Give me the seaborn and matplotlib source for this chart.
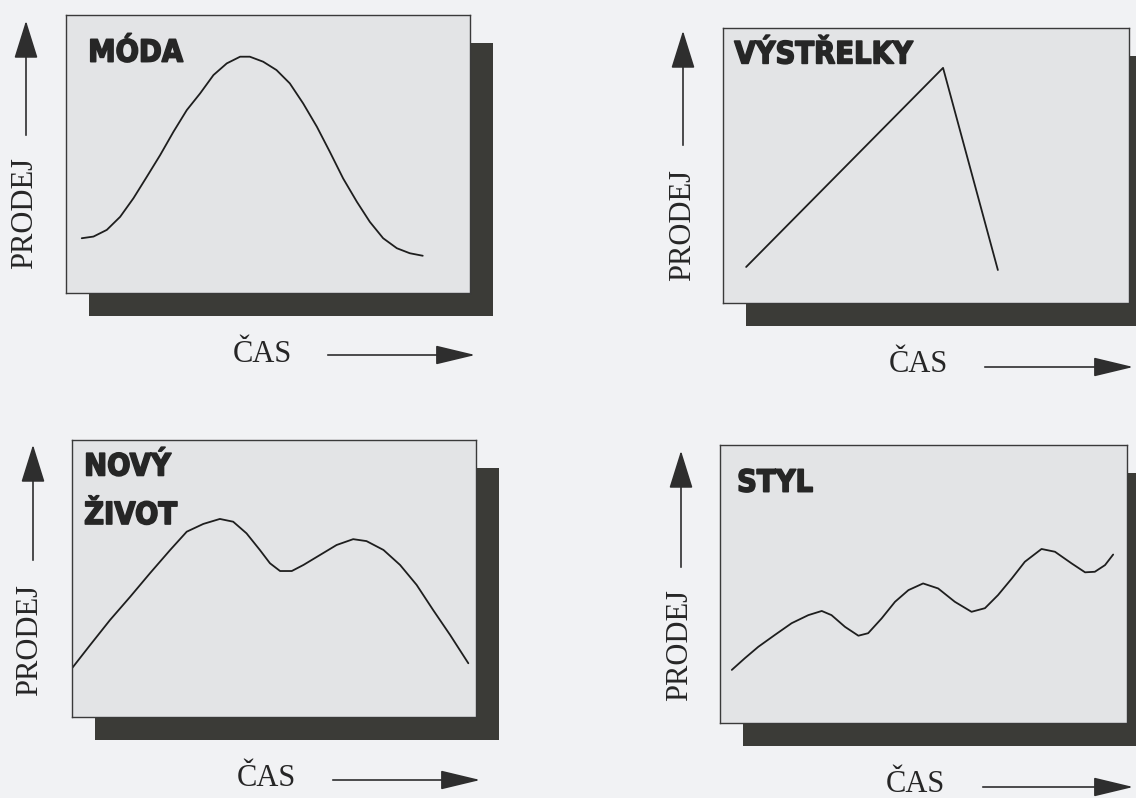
import matplotlib
matplotlib.use('Agg')
import matplotlib.pyplot as plt
import matplotlib.patheffects as pe
import seaborn as sns
import pandas as pd

#### Data: time (x) vs. sales (y), both on a 0-100 scale inside each box
moda_cas = [3.9, 6.8, 10.1, 13.4, 16.7, 20.0, 23.3, 26.6, 29.9, 33.2, 36.5, 39.8, 43.1, 45.5,
            48.8, 52.1, 55.4, 58.7, 62.1, 65.3, 68.6, 72.0, 75.2, 78.5, 81.9, 85.1, 88.3]
moda_prodej = [19.7, 20.3, 22.7, 27.4, 34.1, 41.8, 49.6, 58.0, 65.8, 71.8, 78.4, 82.6, 85.0, 85.0,
               83.2, 80.2, 75.4, 68.2, 59.8, 50.8, 41.2, 32.8, 25.6, 19.7, 16.1, 14.3, 13.4]

vystrelky_cas = [5.7, 54.2, 67.7]
vystrelky_prodej = [13.1, 85.5, 12.0]

novy_cas = [0.0, 4.5, 9.4, 14.4, 19.3, 24.3, 28.4, 32.5, 36.6, 39.9, 43.2, 46.5, 49.0,
            51.5, 54.4, 57.3, 61.4, 65.5, 69.6, 72.9, 77.1, 81.2, 85.3, 89.4, 93.6, 98.1]
novy_prodej = [17.6, 26.0, 35.0, 43.4, 51.9, 60.3, 66.9, 69.7, 71.5, 70.5, 66.3, 60.3, 55.5,
               52.7, 52.7, 54.9, 58.5, 62.1, 64.2, 63.5, 60.3, 54.9, 47.7, 38.6, 29.6, 19.4]

styl_cas = [2.9, 6.1, 9.4, 13.5, 17.6, 21.7, 25.0, 27.4, 30.7, 34.0, 36.4, 39.7, 43.0, 46.3, 49.9,
            53.6, 57.7, 61.8, 65.1, 68.3, 71.7, 74.9, 79.0, 82.3, 86.4, 89.7, 92.1, 94.6, 96.6]
styl_prodej = [19.1, 23.3, 27.4, 31.7, 35.9, 38.8, 40.3, 38.8, 34.6, 31.4, 32.3, 37.6, 43.6, 47.8, 50.2,
               48.4, 43.6, 40.0, 41.3, 46.0, 52.0, 58.0, 62.6, 61.6, 57.4, 54.2, 54.4, 56.8, 60.6]

titles = ['MÓDA', 'VÝSTŘELKY', 'NOVÝ\nŽIVOT', 'STYL']
x_label = 'ČAS'
y_label = 'PRODEJ'

#### Layout (pixel boxes, top-left origin)
W, H = 1136, 798
boxes = [(66, 15, 470, 293), (723, 28, 1129, 303), (72, 440, 476, 717), (720, 445, 1127, 723)]
title_pos = [(0.055, 0.915), (0.028, 0.955), (0.03, 0.955), (0.042, 0.915)]
shift = 23
ylab_x = [25, 683, 30, 680]
ylab_y = [213, 225, 640, 645]
yarrow = [(26, 138, 18), (683, 148, 28), (33, 563, 442), (681, 570, 448)]
xlab = [(262, 355), (918, 365), (266, 778), (915, 785)]
xarrow = [(325, 478, 355), (982, 1136, 367), (330, 483, 780), (980, 1136, 787)]

data = [(moda_cas, moda_prodej), (vystrelky_cas, vystrelky_prodej),
        (novy_cas, novy_prodej), (styl_cas, styl_prodej)]

sns.set_style('white')
bg = '#f1f2f4'
fig = plt.figure(figsize=(W / 100, H / 100), dpi=100, facecolor=bg)


def rect(x0, y0, x1, y1):
    return [x0 / W, 1 - y1 / H, (x1 - x0) / W, (y1 - y0) / H]


# overlay for labels and arrows, in pixel coordinates
over = fig.add_axes([0, 0, 1, 1], zorder=0)
over.set_xlim(0, W)
over.set_ylim(H, 0)
over.axis('off')

for i, (cas, prodej) in enumerate(data):
    x0, y0, x1, y1 = boxes[i]
    # drop shadow
    sh = fig.add_axes(rect(x0 + shift, y0 + shift + 5, min(x1 + shift, W + 5), y1 + shift), zorder=1)
    sh.set_facecolor('#3b3b37')
    sh.set_xticks([]); sh.set_yticks([])
    for s in sh.spines.values():
        s.set_visible(False)

    ax = fig.add_axes(rect(x0, y0, x1, y1), zorder=2)
    ax.set_facecolor('#e3e4e6')
    df = pd.DataFrame({'cas': cas, 'prodej': prodej})
    sns.lineplot(data=df, x='cas', y='prodej', ax=ax, color='#1e1e1e', linewidth=1.3,
                 sort=False, solid_joinstyle='round', solid_capstyle='round')
    ax.set_xlim(0, 100)
    ax.set_ylim(0, 100)
    ax.set_xticks([]); ax.set_yticks([])
    ax.set_xlabel(''); ax.set_ylabel('')
    for s in ax.spines.values():
        s.set_color('#3a3a3a')
        s.set_linewidth(1.0)
    tx, ty = title_pos[i]
    ax.text(tx, ty, titles[i], transform=ax.transAxes, ha='left', va='top',
            fontsize=22, fontweight='bold', fontstretch='condensed', family='DejaVu Sans',
            color='#262626', linespacing=1.85,
            path_effects=[pe.withStroke(linewidth=1.2, foreground='#262626')])

    # y label and arrow
    over.text(ylab_x[i], ylab_y[i], y_label, rotation=90, ha='center', va='center',
              family='Liberation Serif', fontsize=22, color='#262626')
    ax_x, ay0, ay1 = yarrow[i]
    over.annotate('', xy=(ax_x, ay1), xytext=(ax_x, ay0),
                  arrowprops=dict(arrowstyle='-|>,head_length=2.4,head_width=0.75',
                                  mutation_scale=10, color='#2e2e2e', lw=1.2))
    # x label and arrow
    over.text(xlab[i][0], xlab[i][1], x_label, ha='center', va='center',
              family='Liberation Serif', fontsize=22, color='#262626')
    bx0, bx1, by = xarrow[i]
    over.annotate('', xy=(bx1, by), xytext=(bx0, by),
                  arrowprops=dict(arrowstyle='-|>,head_length=2.5,head_width=0.6',
                                  mutation_scale=10, color='#2e2e2e', lw=1.2))

fig.savefig('out.png', dpi=100, facecolor=bg)
